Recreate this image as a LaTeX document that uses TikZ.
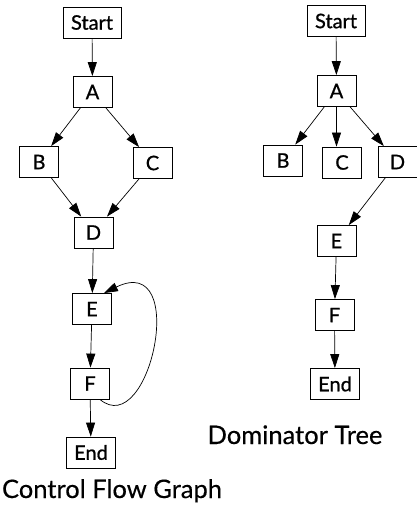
\documentclass[tikz,border=0pt]{standalone}
\usepackage{fontspec}
\setmainfont{Lato}
\newfontfamily\boxfont[FakeBold=0.9]{Lato}
\newfontfamily\capfont[FakeBold=0.4]{Lato}
\usetikzlibrary{arrows.meta}

\tikzset{
  blk/.style={draw, line width=0.8pt, minimum width=39pt, minimum height=31pt,
    inner xsep=8pt, font=\boxfont\fontsize{20}{24}\selectfont},
  edge/.style={-{Triangle[length=14pt,width=9pt]}, line width=0.7pt},
  caption/.style={anchor=base, font=\capfont\fontsize{25.5}{30}\selectfont}
}

\begin{document}
\begin{tikzpicture}[x=1pt,y=-1pt]
  \useasboundingbox (0,0) rectangle (417,506);

  % control flow graph
  \node[blk] (cStart) at (92,22.5) {Start};
  \node[blk] (cA) at (92.5,92) {A};
  \node[blk] (cB) at (39,162) {B};
  \node[blk] (cC) at (152.5,163) {C};
  \node[blk] (cD) at (93.5,232.5) {D};
  \node[blk] (cE) at (92,309) {E};
  \node[blk] (cF) at (90,383.5) {F};
  \node[blk] (cEnd) at (91,452.5) {End};

  \draw[edge] (cStart) -- (cA);
  \draw[edge] (cA) -- (cB);
  \draw[edge] (cA) -- (cC);
  \draw[edge] (cB) -- (cD);
  \draw[edge] (cC) -- (cD);
  \draw[edge] (cD) -- (cE);
  \draw[edge] (cE) -- (cF);
  \draw[edge] (cF) -- (cEnd);
  \draw[edge] ([xshift=-10pt]cF.south east) .. controls +(50,42) and +(86,-42) .. ([xshift=-8pt]cE.north east);

  \node[caption] (cfgLabel) at (112,498) {Control Flow Graph};

  % dominator tree
  \node[blk] (dStart) at (336,21) {Start};
  \node[blk] (dA) at (336.5,91) {A};
  \node[blk] (dB) at (283,160.5) {B};
  \node[blk] (dC) at (342,162.5) {C};
  \node[blk] (dD) at (397.5,162) {D};
  \node[blk] (dE) at (336.5,241) {E};
  \node[blk] (dF) at (334.5,315) {F};
  \node[blk] (dEnd) at (335,384) {End};

  \draw[edge] (dStart) -- (dA);
  \draw[edge] (dA) -- (dB);
  \draw[edge] (dA.south) -- (dA.south |- dC.north);
  \draw[edge] (dA) -- (dD);
  \draw[edge] (dD) -- (dE);
  \draw[edge] (dE) -- (dF);
  \draw[edge] (dF) -- (dEnd);

  \node[caption] (domLabel) at (295,444) {Dominator Tree};
\end{tikzpicture}
\end{document}
